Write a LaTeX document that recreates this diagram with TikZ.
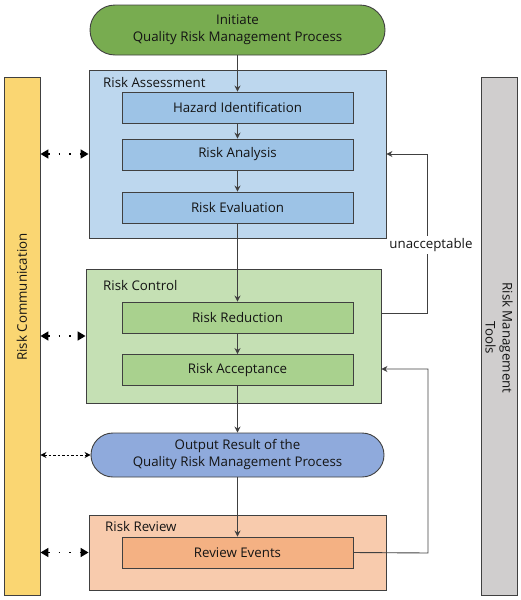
\documentclass[tikz,border=0pt]{standalone}
\usepackage{fontspec}
\setmainfont{Open Sans}
\usetikzlibrary{arrows.meta,shapes.misc,calc}
\definecolor{initg}{HTML}{78AC50}
\definecolor{rabg}{HTML}{BDD7EE}
\definecolor{rain}{HTML}{9DC3E6}
\definecolor{rcbg}{HTML}{C5E0B4}
\definecolor{rcin}{HTML}{A9D18E}
\definecolor{outb}{HTML}{8FAADC}
\definecolor{rvbg}{HTML}{F8CBAD}
\definecolor{rvin}{HTML}{F4B183}
\definecolor{commy}{HTML}{FAD672}
\definecolor{toolg}{HTML}{D0CECE}
\definecolor{edge}{HTML}{404040}
\begin{document}
\begin{tikzpicture}[x=1pt,y=-1pt,
  every node/.style={font=\fontsize{13.3}{17}\selectfont, text=black!92, inner sep=0pt, align=center},
  pill/.style={draw=edge, line width=0.9pt, rounded rectangle, minimum height=#1},
  group/.style={draw=edge, line width=0.9pt, rectangle},
  stepbox/.style={draw=edge, line width=0.9pt, rectangle, minimum width=231pt, minimum height=31pt},
  flow/.style={draw=edge, line width=0.9pt, -{Stealth[length=6pt,width=6pt]}},
  comm/.style={draw=black, line width=1.6pt, dash pattern=on 1.6pt off 9pt, {Triangle[length=8pt,width=9pt]}-{Triangle[length=8pt,width=9pt]}},
  commthin/.style={draw=black, line width=0.9pt, dash pattern=on 2.5pt off 2pt, {Stealth[length=6pt,width=6pt]}-{Stealth[length=6pt,width=6pt]}}
]
\useasboundingbox (0,0) rectangle (521,600);
% side bars
\node[group, fill=commy, minimum width=36pt, minimum height=518pt] (comm) at (22,336) {};
\node[rotate=90] (commt) at (22,297) {Risk Communication};
\node[group, fill=toolg, minimum width=36pt, minimum height=518pt] (tools) at (499,336) {};
\node[rotate=-90] (toolst) at (499,338) {Risk Management\\Tools};
% top
\node[pill=50pt, fill=initg, minimum width=295pt] (init) at (237.5,30) {Initiate\\Quality Risk Management Process};
% assessment
\node[group, fill=rabg, minimum width=297pt, minimum height=168pt] (ra) at (237.5,154) {};
\node[anchor=west] (ralbl) at (103,83) {Risk Assessment};
\node[stepbox, fill=rain] (hi) at (237.5,107.5) {Hazard Identification};
\node[stepbox, fill=rain] (ran) at (237.5,154.5) {Risk Analysis};
\node[stepbox, fill=rain] (rev) at (237.5,207.5) {Risk Evaluation};
% control
\node[group, fill=rcbg, minimum width=295pt, minimum height=134pt] (rc) at (233.5,336) {};
\node[anchor=west] (rclbl) at (103,286) {Risk Control};
\node[stepbox, fill=rcin] (rred) at (237.5,317.5) {Risk Reduction};
\node[stepbox, fill=rcin] (racc) at (237.5,370) {Risk Acceptance};
% output
\node[pill=44pt, fill=outb, minimum width=293pt] (out) at (237.5,455) {Output Result of the\\Quality Risk Management Process};
% review
\node[group, fill=rvbg, minimum width=297pt, minimum height=75pt] (rr) at (237.5,552.5) {};
\node[anchor=west] (rrlbl) at (105,527) {Risk Review};
\node[stepbox, fill=rvin] (rvev) at (237.5,552.5) {Review Events};
% main flow
\draw[flow] (init.south -| hi.north) -- (hi.north);
\draw[flow] (hi) -- (ran);
\draw[flow] (ran) -- (rev);
\draw[flow] (rev) -- (rred);
\draw[flow] (rred) -- (racc);
\draw[flow] (racc.south) -- (out.north);
\draw[flow] (out.south) -- (rvev.north);
% feedback loops
\coordinate (f1) at (427,313);
\coordinate (f2) at (428,553);
\coordinate (f2t) at (428,369);
\draw[flow] (rc.east |- f1) -- (f1) |- (ra.east);
\node[fill=white, inner sep=2pt] (unacc) at (431,245) {unacceptable};
\draw[flow] (rvev.east) -- (f2) -- (f2t) -- (f2t -| rc.east);
% communication
\draw[comm] (comm.east |- ra.west) -- (ra.west);
\draw[comm] (comm.east |- rc.west) -- (rc.west);
\draw[commthin] (comm.east |- out.west) -- (out.west);
\draw[comm] (comm.east |- rr.west) -- (rr.west);
\end{tikzpicture}
\end{document}
